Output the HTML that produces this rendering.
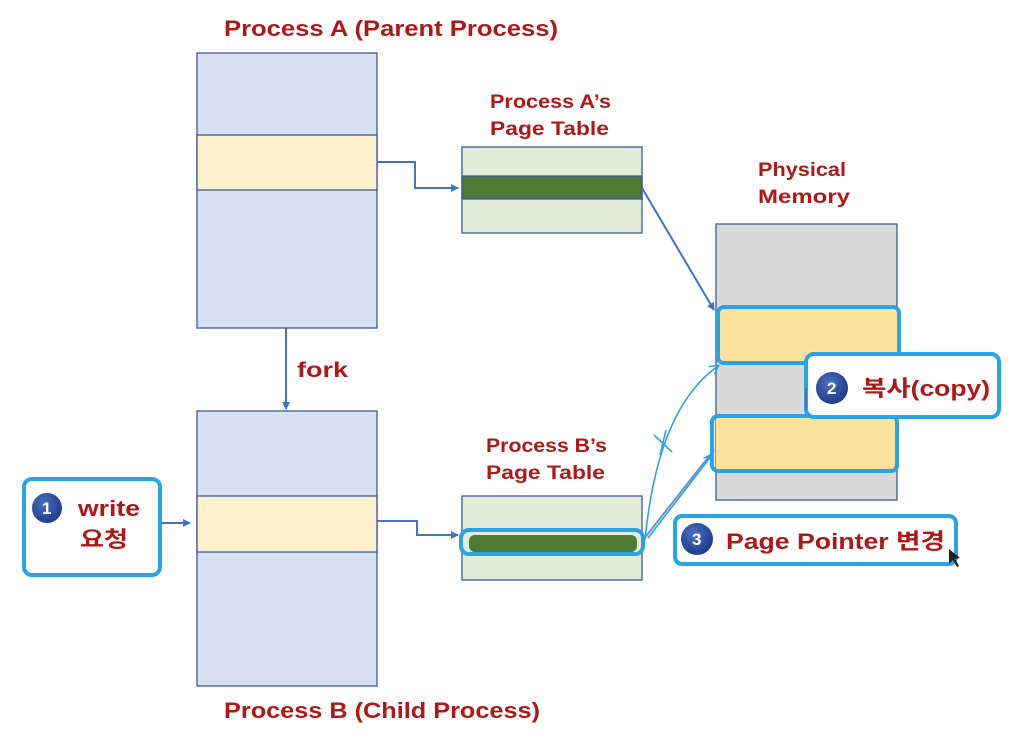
<!DOCTYPE html>
<html><head><meta charset="utf-8"><style>
html,body{margin:0;padding:0;background:#fff;}
svg{display:block;}
text{font-family:"Liberation Sans","Noto Sans CJK KR",sans-serif;font-weight:bold;fill:#b01818;}
.n{fill:#fff;font-size:17px;}
</style></head><body>
<svg width="1022" height="748" viewBox="0 0 1022 748" xmlns="http://www.w3.org/2000/svg">
<defs>
<marker id="ar" markerWidth="8" markerHeight="8" refX="7" refY="4" orient="auto" markerUnits="userSpaceOnUse"><path d="M0,0 L8,4 L0,8 z" fill="#4472c4"/></marker>
<marker id="ar2" markerWidth="10" markerHeight="10" refX="8" refY="5" orient="auto" markerUnits="userSpaceOnUse"><path d="M0,0 L9,5 L0,10" fill="none" stroke="#29a3e8" stroke-width="1.5"/></marker>
<radialGradient id="cg" cx="40%" cy="35%" r="65%"><stop offset="0" stop-color="#4a6fc0"/><stop offset="1" stop-color="#1f3c88"/></radialGradient>
</defs>
<text x="224" y="36" font-size="22" textLength="334" lengthAdjust="spacingAndGlyphs">Process A (Parent Process)</text>
<text x="224" y="718" font-size="22" textLength="316" lengthAdjust="spacingAndGlyphs">Process B (Child Process)</text>
<text x="490" y="108" font-size="19" textLength="121" lengthAdjust="spacingAndGlyphs">Process A’s</text>
<text x="490" y="135" font-size="19" textLength="119" lengthAdjust="spacingAndGlyphs">Page Table</text>
<text x="486" y="452" font-size="19" textLength="121" lengthAdjust="spacingAndGlyphs">Process B’s</text>
<text x="486" y="479" font-size="19" textLength="119" lengthAdjust="spacingAndGlyphs">Page Table</text>
<text x="758" y="176" font-size="19" textLength="88" lengthAdjust="spacingAndGlyphs">Physical</text>
<text x="758" y="203" font-size="19" textLength="92" lengthAdjust="spacingAndGlyphs">Memory</text>
<text x="297" y="377" font-size="21" textLength="51" lengthAdjust="spacingAndGlyphs">fork</text>

<g stroke="#3b5a98" stroke-width="1.3">
<rect x="197" y="53" width="180" height="275" fill="#d8e1f1"/>
<rect x="197" y="135" width="180" height="55" fill="#fdf0cb"/>
<rect x="197" y="411" width="180" height="275" fill="#d8e1f1"/>
<rect x="197" y="496" width="180" height="56" fill="#fdf0cb"/>
<rect x="462" y="147" width="180" height="86" fill="#e2ecd8"/>
<rect x="462" y="176" width="180" height="23" fill="#4e7a34"/>
<rect x="462" y="496" width="180" height="84" fill="#e2ecd8"/>
<rect x="716" y="224" width="181" height="276" fill="#d9d9d9"/>
<rect x="718" y="310" width="179" height="52" fill="#fbe29a" stroke="none"/>
<rect x="716" y="418" width="179" height="52" fill="#fbe29a" stroke="none"/>
</g>
<rect x="469" y="535" width="168" height="17" rx="6" fill="#4e7a34"/>

<g stroke="#4472c4" stroke-width="2" fill="none">
<path d="M377,162 H415 V188 H458" marker-end="url(#ar)"/>
<path d="M377,521 H417 V535 H458" marker-end="url(#ar)"/>
<path d="M286,328 V409" marker-end="url(#ar)"/>
<path d="M160,523 H190" marker-end="url(#ar)"/>
<path d="M642,188 L714,310" marker-end="url(#ar)"/>
<path d="M643,540 L714,450" stroke="#6a8fd6"/>
</g>
<g stroke="#29a3e8" stroke-width="1.6" fill="none">
<path d="M645,540 C652,470 670,400 718,366" marker-end="url(#ar2)"/>
<path d="M648,538 L712,455" marker-end="url(#ar2)"/>
<path d="M654,435 L672,452 M666,430 L660,455"/>
</g>
<g fill="none" stroke="#29a3e8" stroke-width="4">
<rect x="718" y="307" width="181" height="56" rx="6"/>
<rect x="712" y="416" width="185" height="55" rx="6"/>
<rect x="461" y="530" width="182" height="24" rx="8"/>
<rect x="24" y="479" width="136" height="96" rx="8"/>
</g>
<rect x="806" y="354" width="193" height="63" rx="8" fill="#fff" stroke="#29a3e8" stroke-width="4"/>
<rect x="675" y="516" width="281" height="48" rx="7" fill="#fff" stroke="#29a3e8" stroke-width="4"/>
<path d="M806,388 V410" stroke="#4472c4" stroke-width="2"/>

<circle cx="47" cy="508" r="15" fill="url(#cg)"/><text class="n" x="42" y="514">1</text>
<text x="78" y="516" font-size="22" textLength="62" lengthAdjust="spacingAndGlyphs">write</text>
<text x="80" y="547" font-size="22" textLength="48" lengthAdjust="spacingAndGlyphs">요청</text>
<circle cx="832" cy="388" r="16" fill="url(#cg)"/><text class="n" x="827" y="394">2</text>
<text x="862" y="396" font-size="22" textLength="128" lengthAdjust="spacingAndGlyphs">복사(copy)</text>
<circle cx="697" cy="539" r="16" fill="url(#cg)"/><text class="n" x="692" y="545">3</text>
<text x="726" y="549" font-size="22" textLength="219" lengthAdjust="spacingAndGlyphs">Page Pointer 변경</text>
<path d="M949,549 L949,564 L953,560 L957,567 L959,566 L955,559 L960,558 Z" fill="#222"/>
</svg>
</body></html>
